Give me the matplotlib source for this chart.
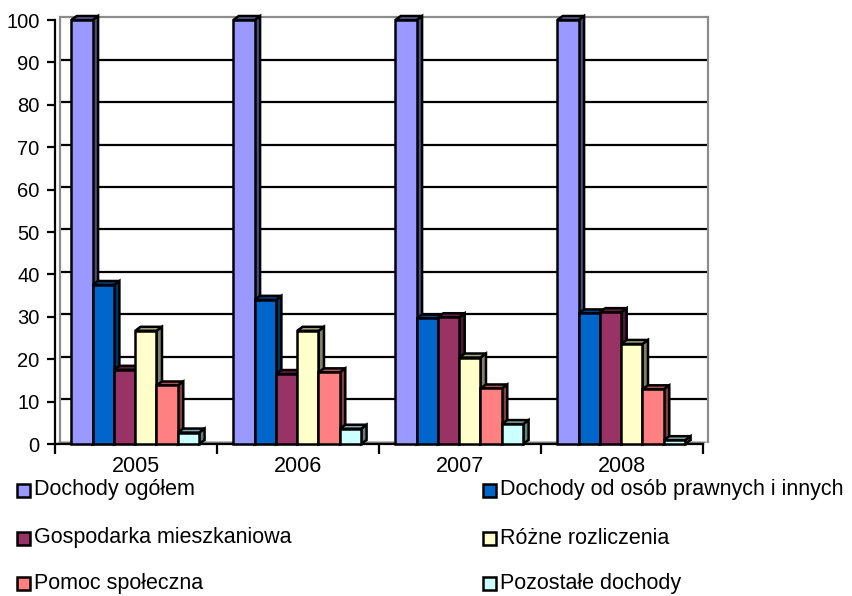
import matplotlib
matplotlib.use("Agg")
import matplotlib.pyplot as plt
from matplotlib.patches import Polygon, Rectangle
import numpy as np

categories = ['2005', '2006', '2007', '2008']
series_names = ['Dochody ogółem', 'Dochody od osób prawnych i innych',
                'Gospodarka mieszkaniowa', 'Różne rozliczenia',
                'Pomoc społeczna', 'Pozostałe dochody']
dochody_ogolem = [100, 100, 100, 100]
dochody_prawne = [37.5, 34.0, 29.6, 30.8]
gospodarka = [17.5, 16.5, 29.9, 31.1]
rozne = [26.7, 26.7, 20.4, 23.6]
pomoc = [13.8, 16.9, 13.1, 12.9]
pozostale = [2.7, 3.6, 4.7, 0.9]
series_values = [dochody_ogolem, dochody_prawne, gospodarka, rozne, pomoc, pozostale]
colors = ['#9999FF', '#0066CC', '#993366', '#FFFFCC', '#FF8080', '#CCFFFF']
yticks = list(range(0, 101, 10))

plt.rcParams['font.family'] = ['Liberation Sans', 'DejaVu Sans']

W, H = 852, 596
fig = plt.figure(figsize=(W / 100, H / 100), dpi=100)
ax_l, ax_r, ax_b, ax_t = 55, 703, 444, 20
ax = fig.add_axes([ax_l / W, (H - ax_b) / H, (ax_r - ax_l) / W, (ax_b - ax_t) / H])
ncat = len(categories)
ax.set_xlim(-0.5, ncat - 0.5)
ax.set_ylim(0, 100)

pxx = (ax_r - ax_l) / ncat       # px per x unit
pxy = (ax_b - ax_t) / 100.0      # px per y unit

def darker(c, f):
    rgb = np.array(matplotlib.colors.to_rgb(c))
    return tuple(rgb * f)

# back wall / floor
wdx, wdy = 5 / pxx, 2.5 / pxy
x0, x1 = -0.5, ncat - 0.5
ax.add_patch(Polygon([(x0, 0), (x1, 0), (x1 + wdx, wdy), (x0 + wdx, wdy)],
                     closed=True, facecolor='#808080', edgecolor='none', zorder=0.6, clip_on=False))
for v in yticks[1:]:
    ax.plot([x0 + wdx, x1 + wdx], [v + wdy, v + wdy],
            color='black' if v < 100 else '#8c8c8c', lw=1.6, zorder=0.5, clip_on=False,
            solid_capstyle='butt')
ax.plot([x0 + wdx, x0 + wdx], [wdy, 100 + wdy], color='#8c8c8c', lw=1.6, zorder=0.55, clip_on=False)
ax.plot([x1 + wdx, x1 + wdx], [wdy, 100 + wdy], color='#8c8c8c', lw=1.6, zorder=0.55, clip_on=False)

# 3D bars
bw = 21.3 / pxx
bdx, bdy = 5.5 / pxx, 4 / pxy
nser = len(series_values)
lw = 1.8
for ci in range(ncat):
    for si in range(nser):
        v = series_values[si][ci]
        left = ci - 0.5 * nser * bw + si * bw - 0.005
        right = left + bw
        z = 2 + si * 0.1
        c = colors[si]
        ax.add_patch(Polygon([(right, 0), (right + bdx, bdy), (right + bdx, v + bdy), (right, v)],
                             closed=True, facecolor=darker(c, 0.5), edgecolor='black', lw=lw,
                             zorder=z, clip_on=False, joinstyle='miter'))
        ax.add_patch(Polygon([(left, v), (right, v), (right + bdx, v + bdy), (left + bdx, v + bdy)],
                             closed=True, facecolor=darker(c, 0.65), edgecolor='black', lw=lw,
                             zorder=z, clip_on=False, joinstyle='miter'))
        ax.add_patch(Rectangle((left, 0), bw, v, facecolor=c, edgecolor='black', lw=lw,
                               zorder=z + 0.01, clip_on=False, joinstyle='miter'))

# axes styling
for s in ['top', 'right']:
    ax.spines[s].set_visible(False)
ax.spines['left'].set_linewidth(1.6)
ax.spines['bottom'].set_linewidth(1.6)
ax.spines['bottom'].set_zorder(1.5)
ax.set_yticks(yticks)
ax.set_yticklabels([str(t) for t in yticks], fontsize=14.5)
ax.tick_params(axis='y', length=6, width=1.6, direction='out', pad=5)
ax.set_xticks(np.arange(-0.5, ncat, 1.0))
ax.set_xticklabels([])
ax.set_xticks(np.arange(ncat), minor=True)
ax.set_xticklabels(categories, minor=True, fontsize=15.5)
ax.tick_params(axis='x', which='major', length=7, width=1.6, direction='out')
ax.tick_params(axis='x', which='minor', length=0, pad=9)
ax.patch.set_alpha(0)

# legend (manual, two columns)
leg_rows = [490, 538, 583]
leg_cols = [(17, 34), (483, 500)]
for i, (name, c) in enumerate(zip(series_names, colors)):
    row, col = i // 2, i % 2
    mx, tx = leg_cols[col]
    y = leg_rows[row]
    sq = 13
    fig.add_artist(Rectangle(((mx) / W, (H - y - sq / 2) / H), sq / W, sq / H,
                             transform=fig.transFigure, facecolor=c, edgecolor='black', lw=1.8))
    fig.text(tx / W, (H - y) / H, name, fontsize=15.5, va='center', ha='left')

fig.savefig('out.png', dpi=100)
